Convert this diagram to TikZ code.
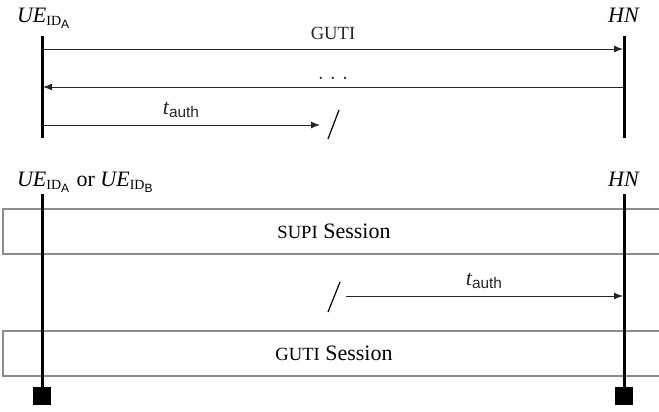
\documentclass[tikz,border=0pt]{standalone}
\usepackage{fontspec}
\usepackage{amsmath}
\setmainfont{Liberation Serif}
\newfontfamily\sansfont{Liberation Sans}
\usetikzlibrary{arrows.meta}

\newcommand{\ueid}[1]{$\textit{UE}_{\text{\fontsize{7}{8}\selectfont ID}_{\text{\fontsize{6}{7}\selectfont\sansfont #1}}}$}
\newcommand{\tauth}{$\textit{t}_{\text{\sansfont auth}}$}
\newcommand{\smcaps}[1]{{\fontsize{9.3}{11}\selectfont #1}}

\begin{document}
\begin{tikzpicture}[x=0.5pt,y=-0.5pt,font=\fontsize{11}{13}\selectfont,
  lifeline/.style={line width=1.5pt},
  msg/.style={-{Latex[length=4.5pt,width=3.5pt]},line width=0.5pt,black!85},
  sessionbox/.style={draw=black!45,line width=1pt,minimum width=331pt,minimum height=22.5pt,inner sep=0pt},
  endmark/.style={fill=black,minimum size=9pt,inner sep=0pt},
  breakmark/.style={line width=0.6pt}]

\useasboundingbox (0,0) rectangle (659,412);

% first run: GUTI
\node[anchor=base west] (ue) at (10,22) {\ueid{A}};
\node[anchor=base] (hn) at (624,22) {\textit{HN}};

\coordinate (ueTop) at (42,36);
\coordinate (ueBot) at (42,138);
\coordinate (hnTop) at (624,36);
\coordinate (hnBot) at (624,138);
\draw[lifeline] (ueTop) -- (ueBot);
\draw[lifeline] (hnTop) -- (hnBot);

\coordinate (m1a) at (43,49);   \coordinate (m1b) at (623,49);
\coordinate (m2a) at (623,87);  \coordinate (m2b) at (43,87);
\coordinate (m3a) at (43,125);  \coordinate (m3b) at (320,125);

\draw[msg] (m1a) -- (m1b) node[midway,above=1pt] (guti) {\smcaps{GUTI}};
\draw[msg] (m2a) -- (m2b) node[midway,above] (dots) {$.\;.\;.$};
\draw[msg] (m3a) -- (m3b) node[midway,above] (t1) {\tauth};

\coordinate (brk1a) at (328,139);
\coordinate (brk1b) at (339,110);
\draw[breakmark] (brk1a) -- (brk1b);

% second run: sessions
\node[anchor=base west] (ue2) at (10,186) {\ueid{A} or \ueid{B}};
\node[anchor=base] (hn2) at (624,186) {\textit{HN}};

\node[sessionbox] (supi) at (334,231.5) {\smcaps{SUPI} Session};
\node[sessionbox] (gutis) at (334,353) {\smcaps{GUTI} Session};

\node[endmark] (ueEnd) at (42,396) {};
\node[endmark] (hnEnd) at (624,396) {};
\coordinate (ue2Top) at (42,194);
\coordinate (hn2Top) at (624,194);
\draw[lifeline] (ue2Top) -- (ueEnd);
\draw[lifeline] (hn2Top) -- (hnEnd);

\coordinate (m4a) at (346,296); \coordinate (m4b) at (623,296);
\draw[msg] (m4a) -- (m4b) node[midway,above] (t2) {\tauth};

\coordinate (brk2a) at (328,312);
\coordinate (brk2b) at (340,282);
\draw[breakmark] (brk2a) -- (brk2b);

\end{tikzpicture}
\end{document}
